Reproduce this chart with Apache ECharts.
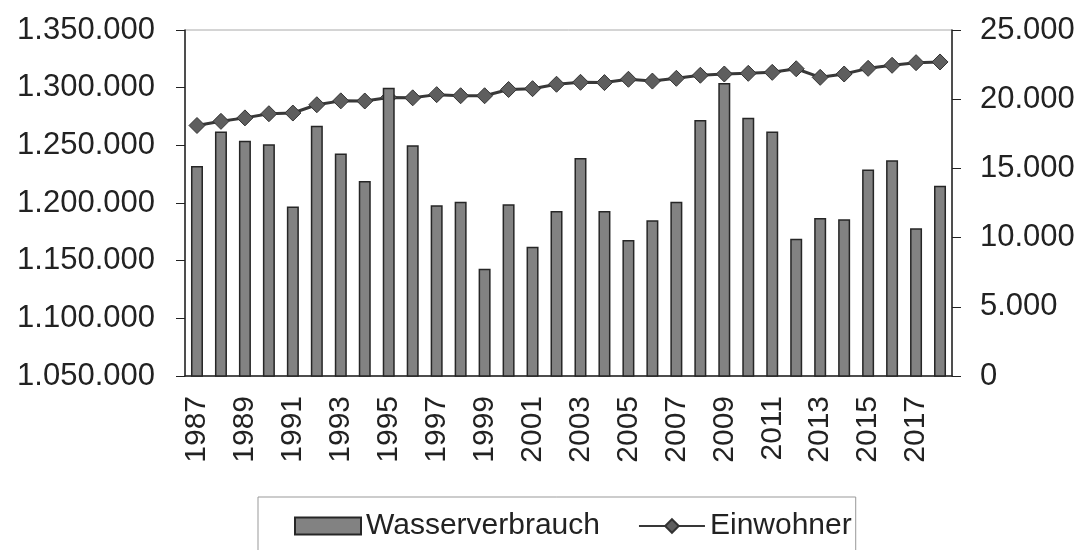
<!DOCTYPE html>
<html>
<head>
    <meta charset="utf-8" />
    <title></title>
    <script src="https://cdn.jsdelivr.net/npm/echarts@6/dist/echarts.min.js"></script>
    <style>
        html, body { margin: 0; padding: 0; background: #fff; }
    </style>
</head>
<body>
    <div id="main" style="width: 1090px;height:550px;"></div>
<script type="text/javascript">
    // Jahre, Wasserverbrauch (linke Achse), Einwohner (rechte Achse)
    var years = ['1987', '1988', '1989', '1990', '1991', '1992', '1993', '1994', '1995', '1996',
        '1997', '1998', '1999', '2000', '2001', '2002', '2003', '2004', '2005', '2006',
        '2007', '2008', '2009', '2010', '2011', '2012', '2013', '2014', '2015', '2016',
        '2017', '2018'];
    var wasserverbrauch = [1232000, 1262000, 1254000, 1251000, 1197000, 1267000, 1243000, 1219000, 1300000, 1250000,
        1198000, 1201000, 1143000, 1199000, 1162000, 1193000, 1239000, 1193000, 1168000, 1185000,
        1201000, 1272000, 1304000, 1274000, 1262000, 1169000, 1187000, 1186000, 1229000, 1237000,
        1178000, 1215000];
    var einwohner = [18100, 18400, 18650, 18950, 19000, 19600, 19880, 19870, 20130, 20100,
        20330, 20250, 20250, 20700, 20760, 21080, 21220, 21200, 21440, 21310,
        21510, 21730, 21820, 21870, 21940, 22200, 21580, 21820, 22230, 22450,
        22640, 22690];

    var fontName = 'Liberation Sans';

    function deFormat(v) {
        return String(v).replace(/\B(?=(\d{3})+(?!\d))/g, '.');
    }

    var myChart = echarts.init(document.getElementById('main'));
    var option = {
        animation: false,
        backgroundColor: '#fff',
        textStyle: { fontFamily: fontName, color: '#222' },
        grid: {
            left: 185, right: 138, top: 30, bottom: 174,
            show: true, borderColor: '#aaa', borderWidth: 1
        },
        legend: {
            left: 258, top: 497,
            padding: [14, 4, 40, 36],
            borderColor: '#999', borderWidth: 1,
            itemWidth: 66, itemHeight: 17, itemGap: 38,
            textStyle: { fontFamily: fontName, fontSize: 30, color: '#222' },
            data: [{ name: 'Wasserverbrauch', icon: 'rect' }, 'Einwohner']
        },
        xAxis: {
            type: 'category',
            data: years,
            boundaryGap: true,
            axisLine: { lineStyle: { color: '#222', width: 1.5 } },
            axisTick: { interval: 0, length: 9, lineStyle: { color: '#222', width: 1 } },
            axisLabel: {
                interval: 1, rotate: 90, margin: 20,
                fontSize: 30, color: '#222', fontFamily: fontName
            }
        },
        yAxis: [{
            type: 'value',
            min: 1050000, max: 1350000, interval: 50000,
            axisLine: { show: true, lineStyle: { color: '#222', width: 1.5 } },
            axisTick: { show: true, length: 9, lineStyle: { color: '#222' } },
            splitLine: { show: false },
            axisLabel: { margin: 30, fontSize: 31, color: '#222', fontFamily: fontName, formatter: deFormat }
        }, {
            type: 'value',
            min: 0, max: 25000, interval: 5000,
            position: 'right',
            axisLine: { show: true, lineStyle: { color: '#222', width: 1.5 } },
            axisTick: { show: true, length: 9, lineStyle: { color: '#222' } },
            splitLine: { show: false },
            axisLabel: { margin: 28, fontSize: 31, color: '#222', fontFamily: fontName, formatter: deFormat }
        }],
        series: [{
            name: 'Wasserverbrauch',
            type: 'bar',
            yAxisIndex: 0,
            barWidth: 12,
            data: wasserverbrauch,
            itemStyle: { color: '#828282', borderColor: '#262626', borderWidth: 1.5 },
            z: 4
        }, {
            name: 'Einwohner',
            type: 'line',
            yAxisIndex: 1,
            data: einwohner,
            symbol: 'diamond',
            symbolSize: 16,
            showAllSymbol: true,
            lineStyle: { color: '#383838', width: 3 },
            itemStyle: { color: '#5e5e5e', borderColor: '#333', borderWidth: 1 },
            z: 3
        }]
    };
    myChart.setOption(option);
</script>
</body>
</html>
